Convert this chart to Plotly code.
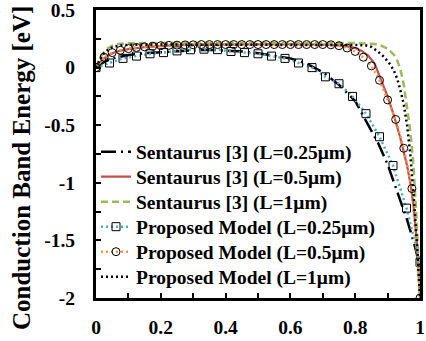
import plotly.graph_objects as go

# Sentaurus [3] L=0.25um (black long-dash-dot)
x_s025 = [0, 0.02, 0.05, 0.1, 0.15, 0.2, 0.25, 0.3, 0.35, 0.4, 0.45, 0.5, 0.55, 0.6, 0.65,
          0.7, 0.75, 0.8, 0.85, 0.87, 0.9, 0.92, 0.94, 0.96, 0.98, 1.0]
y_s025 = [0, 0.04, 0.08, 0.11, 0.125, 0.135, 0.145, 0.15, 0.155, 0.15, 0.14, 0.125, 0.105, 0.08, 0.035,
          -0.04, -0.15, -0.29, -0.55, -0.65, -0.84, -1.0, -1.15, -1.32, -1.51, -1.72]

# Sentaurus [3] L=0.5um (red solid)
x_s05 = [0, 0.01, 0.02, 0.04, 0.06, 0.08, 0.1, 0.15, 0.2, 0.25, 0.3, 0.4, 0.5, 0.6, 0.7, 0.73,
         0.76, 0.78, 0.8, 0.82, 0.84, 0.86, 0.88, 0.9, 0.92, 0.94, 0.96, 0.97, 0.98, 0.99, 1.0]
y_s05 = [0, 0.04, 0.07, 0.11, 0.135, 0.15, 0.16, 0.178, 0.188, 0.195, 0.2, 0.203, 0.203, 0.203, 0.2, 0.197,
         0.19, 0.182, 0.17, 0.145, 0.105, 0.035, -0.1, -0.25, -0.42, -0.62, -0.85, -1.0, -1.2, -1.5, -2.0]

# Sentaurus [3] L=1um (green dashed)
x_s1 = [0, 0.01, 0.02, 0.03, 0.05, 0.07, 0.1, 0.2, 0.4, 0.6, 0.8, 0.86, 0.88, 0.9, 0.91, 0.92,
        0.93, 0.94, 0.95, 0.96, 0.97, 0.98, 0.985, 0.99, 0.995, 1.0]
y_s1 = [0, 0.07, 0.12, 0.155, 0.19, 0.205, 0.212, 0.215, 0.215, 0.215, 0.213, 0.205, 0.19, 0.165, 0.14, 0.11,
        0.06, -0.02, -0.15, -0.33, -0.55, -0.85, -1.08, -1.35, -1.65, -2.0]

# Proposed Model L=0.25um (blue dotted, squares)
x_p025 = [0, 0.0417, 0.0833, 0.125, 0.1667, 0.2083, 0.25, 0.2917, 0.3333, 0.375, 0.4167, 0.4583, 0.5,
          0.5417, 0.5833, 0.625, 0.6667, 0.7083, 0.75, 0.7917, 0.8333, 0.875, 0.9167, 0.9583, 1.0]
y_p025 = [0, 0.04, 0.08, 0.10, 0.12, 0.13, 0.145, 0.155, 0.16, 0.156, 0.14, 0.13, 0.12,
          0.10, 0.08, 0.04, 0.0, -0.08, -0.14, -0.25, -0.40, -0.60, -0.85, -1.22, -1.69]

# Proposed Model L=0.5um (orange dotted, circles)
x_p05 = [0, 0.025, 0.05, 0.075, 0.1, 0.125, 0.15, 0.175, 0.2, 0.225, 0.25, 0.275, 0.3, 0.325, 0.35,
         0.375, 0.4, 0.425, 0.45, 0.475, 0.5, 0.525, 0.55, 0.575, 0.6, 0.625, 0.65, 0.675, 0.7, 0.725,
         0.75, 0.775, 0.8, 0.825, 0.85, 0.875, 0.9, 0.925, 0.95, 0.975, 1.0]
y_p05 = [0, 0.09, 0.13, 0.15, 0.165, 0.175, 0.18, 0.185, 0.19, 0.193, 0.195, 0.197, 0.198, 0.2, 0.2,
         0.2, 0.2, 0.2, 0.2, 0.2, 0.2, 0.2, 0.2, 0.2, 0.2, 0.2, 0.2, 0.2, 0.2, 0.198,
         0.19, 0.17, 0.14, 0.09, 0.015, -0.11, -0.28, -0.45, -0.7, -1.05, -2.0]

# Proposed Model L=1um (black dotted)
x_p1 = [0, 0.01, 0.02, 0.035, 0.05, 0.07, 0.1, 0.2, 0.4, 0.6, 0.8, 0.83, 0.85, 0.87, 0.89, 0.91,
        0.92, 0.93, 0.94, 0.95, 0.96, 0.97, 0.98, 0.99, 1.0]
y_p1 = [0, 0.06, 0.11, 0.15, 0.175, 0.19, 0.198, 0.2, 0.2, 0.2, 0.2, 0.195, 0.18, 0.14, 0.09, 0.02,
        -0.03, -0.1, -0.2, -0.32, -0.5, -0.75, -1.1, -1.5, -2.0]

names = ["Sentaurus [3] (L=0.25\u03bcm)", "Sentaurus [3] (L=0.5\u03bcm)", "Sentaurus [3] (L=1\u03bcm)",
         "Proposed Model (L=0.25\u03bcm)", "Proposed Model (L=0.5\u03bcm)", "Proposed Model (L=1\u03bcm)"]

x_ticks = [0, 0.2, 0.4, 0.6, 0.8, 1]
x_ticklabels = ["0", "0.2", "0.4", "0.6", "0.8", "1"]
y_ticks = [0.5, 0, -0.5, -1, -1.5, -2]
y_ticklabels = ["0.5", "0", "-0.5", "-1", "-1.5", "-2"]
y_title = "Conduction Band Energy [eV]"

FONT = "Liberation Serif"
FS = 19.5
W, H = 426, 341

fig = go.Figure()
fig.add_trace(go.Scatter(x=x_s025, y=y_s025, mode="lines", name=names[0], legend="legend",
                         line=dict(color="black", width=2.5, dash="15px,5px,2px,5px")))
fig.add_trace(go.Scatter(x=x_s05, y=y_s05, mode="lines", name=names[1], legend="legend2",
                         line=dict(color="#C0504D", width=2.2)))
fig.add_trace(go.Scatter(x=x_s1, y=y_s1, mode="lines", name=names[2], legend="legend3",
                         line=dict(color="#9BBB59", width=2.5, dash="7px,4px")))
fig.add_trace(go.Scatter(x=x_p025, y=y_p025, mode="lines+markers", name=names[3], legend="legend4",
                         line=dict(color="#4BACC6", width=2.5, dash="2px,3px"),
                         marker=dict(symbol="square-open", size=8, color="black", line=dict(width=1))))
fig.add_trace(go.Scatter(x=x_p05, y=y_p05, mode="lines+markers", name=names[4], legend="legend5",
                         line=dict(color="#F79646", width=2.5, dash="2px,3px"),
                         marker=dict(symbol="circle-open", size=8, color="black", line=dict(width=1))))
fig.add_trace(go.Scatter(x=x_p1, y=y_p1, mode="lines", name=names[5], legend="legend6",
                         line=dict(color="black", width=2.5, dash="2px,3px")))

PLOT_LEFT = 96
PLOT_RIGHT_MARGIN = 6
PLOT_TOP = 10
PLOT_BOTTOM = 298
legend_centers_px = [152, 177, 202, 227, 252, 277]
legend_common = dict(x=0.0, xanchor="left", yanchor="middle", bgcolor="rgba(0,0,0,0)",
                     font=dict(family=FONT, size=FS, color="black", weight="bold"),
                     itemwidth=30, borderwidth=0)
leg_layout = {}
for i, ypx in enumerate(legend_centers_px):
    key = "legend" if i == 0 else f"legend{i+1}"
    leg_layout[key] = dict(legend_common, y=(PLOT_BOTTOM - ypx) / (PLOT_BOTTOM - PLOT_TOP))

fig.update_layout(
    width=W, height=H,
    margin=dict(l=PLOT_LEFT, r=PLOT_RIGHT_MARGIN, t=PLOT_TOP, b=H - PLOT_BOTTOM, autoexpand=False),
    paper_bgcolor="white", plot_bgcolor="white",
    font=dict(family=FONT, size=FS, color="black", weight="bold"),
    showlegend=True,
    **leg_layout,
)
# y-axis title as rotated text, placed in paper coordinates
fig.add_annotation(text=y_title, textangle=-90, showarrow=False,
                   xref="paper", yref="paper", xanchor="center", yanchor="middle",
                   x=(21 - PLOT_LEFT) / (W - PLOT_LEFT - PLOT_RIGHT_MARGIN),
                   y=(PLOT_BOTTOM - 168) / (PLOT_BOTTOM - PLOT_TOP),
                   font=dict(family=FONT, size=25, color="black", weight="bold"))
fig.update_xaxes(range=[0, 1], tickvals=x_ticks, ticktext=x_ticklabels, automargin=False,
                 ticks="inside", ticklen=5, tickwidth=2, tickcolor="black",
                 minor=dict(dtick=0.1, ticks="inside", ticklen=5, tickwidth=2, tickcolor="black"),
                 showline=True, linecolor="black", linewidth=3, mirror=True,
                 showgrid=False, zeroline=False, ticklabelstandoff=10, ticklabeloverflow="allow",
                 tickfont=dict(family=FONT, size=FS, color="black", weight="bold"))
fig.update_yaxes(range=[-2, 0.5], tickvals=y_ticks, ticktext=y_ticklabels, automargin=False,
                 ticks="inside", ticklen=5, tickwidth=2, tickcolor="black",
                 minor=dict(dtick=0.25, ticks="inside", ticklen=5, tickwidth=2, tickcolor="black"),
                 showline=True, linecolor="black", linewidth=3, mirror=True,
                 showgrid=False, zeroline=False, ticklabelstandoff=14, ticklabeloverflow="allow",
                 tickfont=dict(family=FONT, size=FS, color="black", weight="bold"))

fig.write_html("out.html")
